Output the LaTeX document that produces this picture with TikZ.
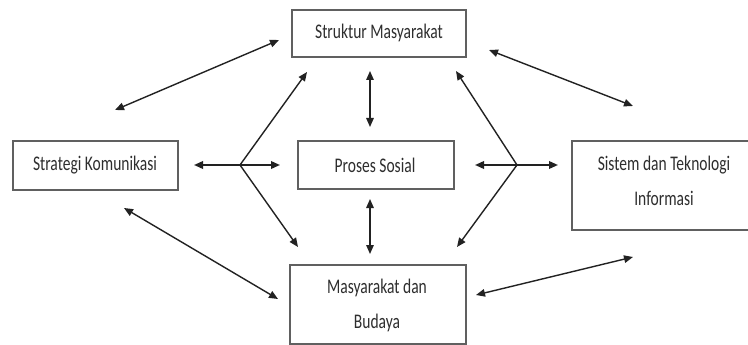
\documentclass[tikz,border=0pt]{standalone}
\usepackage{graphicx}
\usepackage{fontspec}
\setmainfont{Carlito}
\usetikzlibrary{arrows.meta}
\definecolor{lin}{HTML}{222222}
\definecolor{boxc}{HTML}{606060}
\definecolor{txt}{HTML}{2E2E2E}
\newcommand{\tall}[1]{\scalebox{0.97}[1.3]{#1}}
\tikzset{
  box/.style={draw=boxc, line width=1.4pt, fill=white, inner sep=0pt},
  lbl/.style={text=txt, font=\fontsize{16}{35}\selectfont, align=center, inner sep=0pt},
  arr/.style={draw=lin, line width=1.4pt, {Triangle[length=9pt,width=7.5pt]}-{Triangle[length=9pt,width=7.5pt]}},
  one/.style={draw=lin, line width=1.4pt, -{Triangle[length=9pt,width=7.5pt]}},
  hor/.style={arr, line width=1.9pt}
}
\begin{document}
\begin{tikzpicture}[x=1pt,y=-1pt]
\useasboundingbox[fill=white] (0,0) rectangle (748,345);
% boxes
\node[box, minimum width=174pt, minimum height=47pt] (str) at (379,33.5) {};
\node[lbl] (strt) at (379,33) {\tall{Struktur Masyarakat}};
\node[box, minimum width=165pt, minimum height=49pt] (stg) at (95.5,165.5) {};
\node[lbl] (stgt) at (95,165) {\tall{Strategi Komunikasi}};
\node[box, minimum width=156pt, minimum height=48pt] (pro) at (376,165) {};
\node[lbl] (prot) at (375,165) {\tall{Proses Sosial}};
\node[box, minimum width=184pt, minimum height=89pt] (sis) at (664,185.5) {};
\node[lbl] (sist) at (664,181) {\tall{Sistem dan Teknologi}\\\tall{Informasi}};
\node[box, minimum width=176pt, minimum height=79pt] (mas) at (378,304.5) {};
\node[lbl] (mast) at (377,305) {\tall{Masyarakat dan}\\\tall{Budaya}};
% coordinates
\coordinate (a1) at (279,40);  \coordinate (a2) at (115,110);
\coordinate (b1) at (489,50);  \coordinate (b2) at (633,106);
\coordinate (c1) at (124,208); \coordinate (c2) at (278,299);
\coordinate (d1) at (476,295); \coordinate (d2) at (633,257);
\coordinate (h1) at (194,165); \coordinate (h2) at (280,165);
\coordinate (h3) at (475,165); \coordinate (h4) at (558,165);
\coordinate (j1) at (240,165); \coordinate (j2) at (517,165);
\coordinate (u1) at (307,72);  \coordinate (l1) at (298,247);
\coordinate (u2) at (456,71);  \coordinate (l2) at (457,247);
\coordinate (v1) at (370,71);  \coordinate (v2) at (370,127);
\coordinate (v3) at (370,199); \coordinate (v4) at (370,254);
% arrows
\draw[arr] (a1) -- (a2);
\draw[arr] (b1) -- (b2);
\draw[arr] (c1) -- (c2);
\draw[arr] (d1) -- (d2);
\draw[hor] (h1) -- (h2);
\draw[hor] (h3) -- (h4);
\draw[one] (j1) -- (u1);
\draw[one] (j1) -- (l1);
\draw[one] (j2) -- (u2);
\draw[one] (j2) -- (l2);
\draw[arr] (v1) -- (v2);
\draw[arr] (v3) -- (v4);
\end{tikzpicture}
\end{document}
